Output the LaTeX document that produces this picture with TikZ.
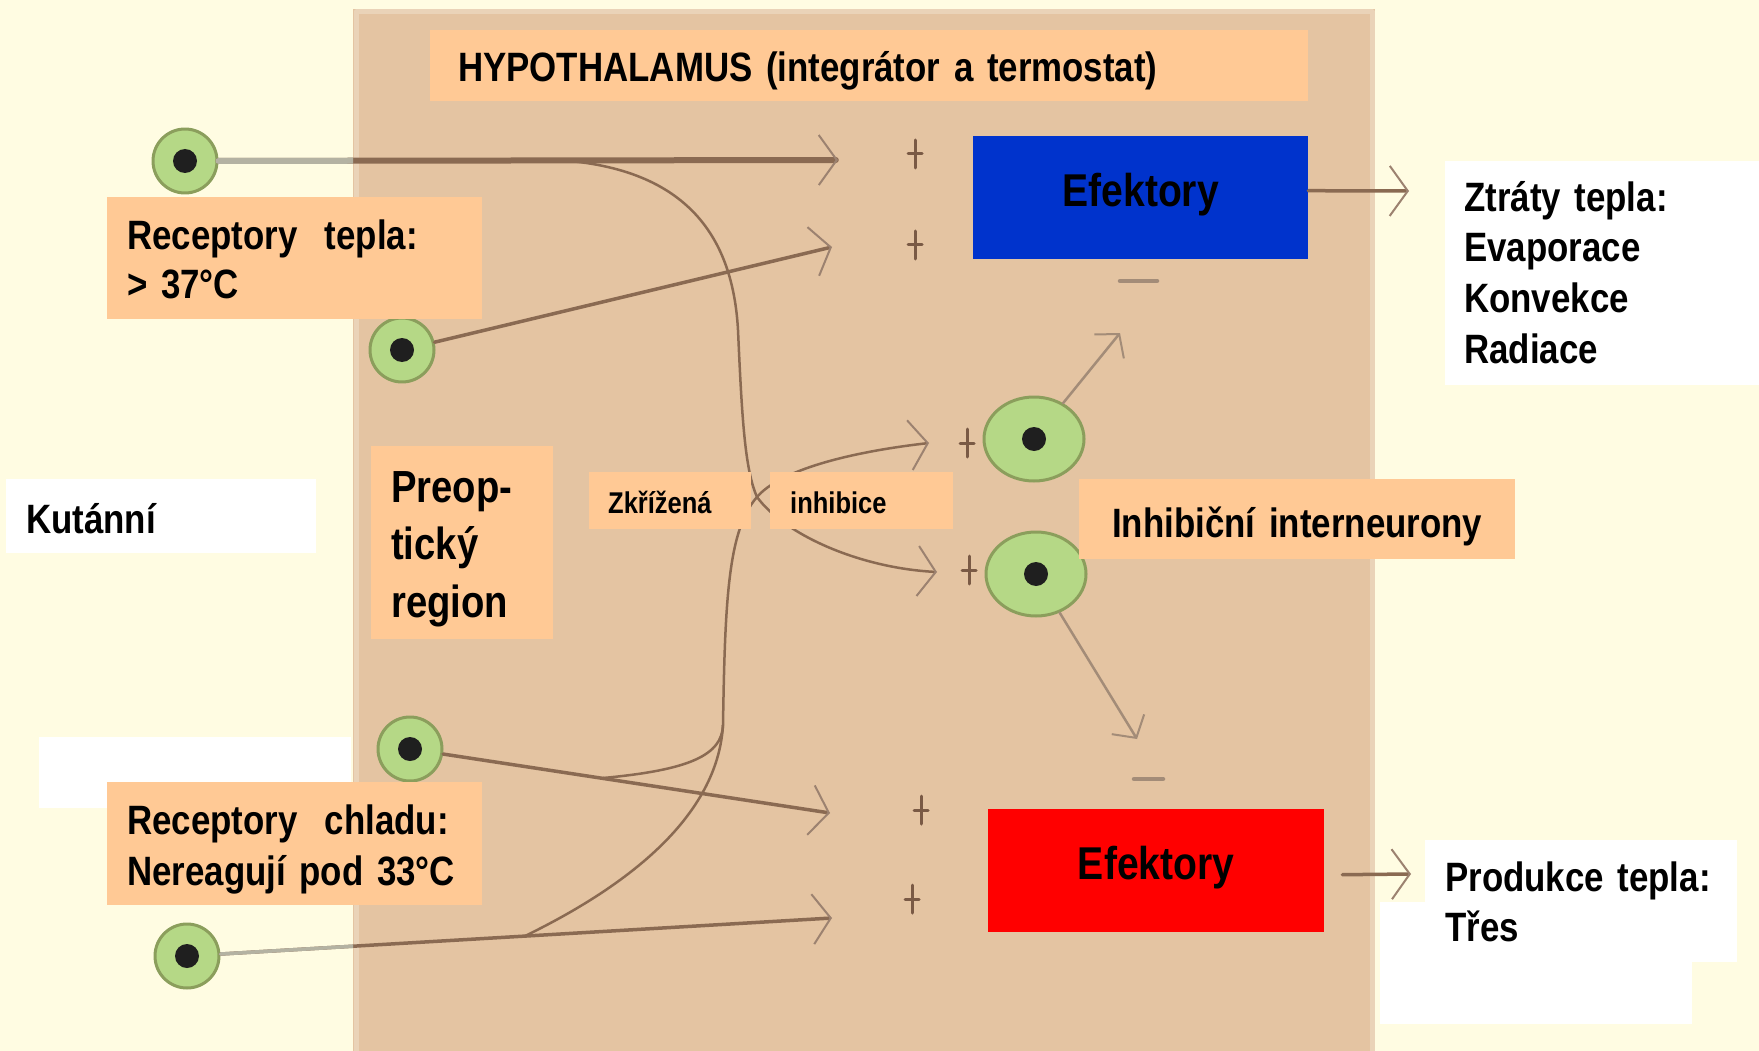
\documentclass[tikz,border=0pt]{standalone}
\usepackage{fontspec}
\setmainfont{Liberation Sans}[FakeStretch=0.85,BoldFeatures={WordSpace=0.65}]
\usepackage{tikz}
\usetikzlibrary{arrows.meta,shapes.geometric}

\definecolor{pagebg}{HTML}{FFFCE2}
\definecolor{hypotan}{HTML}{E4C4A2}
\definecolor{hypoedge}{HTML}{EAD3B8}
\definecolor{peach}{HTML}{FFC995}
\definecolor{nerve}{HTML}{8A6A52}
\definecolor{nervegray}{HTML}{B4B2A2}
\definecolor{barb}{HTML}{9C8270}
\definecolor{cellgreen}{HTML}{B5D886}
\definecolor{cellring}{HTML}{8B9E5C}
\definecolor{efblue}{HTML}{0033CC}
\definecolor{signgray}{HTML}{A38C78}
\definecolor{signdark}{HTML}{7A5A45}

\tikzset{
  labelbox/.style={anchor=north west, inner ysep=0pt, align=left,
    font=\bfseries\fontsize{41}{51}\selectfont},
  peachbox/.style={labelbox, fill=peach},
  whitebox/.style={labelbox, fill=white},
  effbox/.style={anchor=north west, inner sep=0pt, text height=70pt, text depth=53pt,
    font=\bfseries\fontsize{46}{50}\selectfont},
  cell/.style={circle, fill=cellgreen, draw=cellring, line width=3pt, minimum size=64pt, inner sep=0pt,
    path picture={\fill[black!88] (path picture bounding box.center) circle (12pt);}},
  inter/.style={cell, ellipse, minimum width=100pt, minimum height=84pt},
  axon/.style={draw=nerve, line width=3.5pt,
    -{Straight Barb[length=18pt,width=50pt,line width=2pt,color=barb]}},
  crossaxon/.style={axon, line width=2.5pt},
  inhaxon/.style={draw=signgray, line width=2.5pt,
    -{Straight Barb[length=16pt,width=38pt,line width=2pt]}},
  signline/.style={draw=signdark, line width=3pt},
  minusline/.style={draw=signgray, line width=4.5pt}
}

\begin{document}
\begin{tikzpicture}[x=1pt, y=-1pt, line cap=round, line join=round]
  \fill[pagebg] (0,0) rectangle (1759,1051);
  \useasboundingbox (0,0) rectangle (1759,1051);
  % hypothalamus panel
  \fill[hypotan] (353,9) rectangle (1375,1051);
  \draw[hypoedge, line width=5pt] (356,12) rectangle (1372,1060);

  % neurons
  \node[cell] (warmA) at (185,161) {};
  \node[cell] (warmB) at (402,350) {};
  \node[cell] (coldA) at (410,749) {};
  \node[cell] (coldB) at (187,956) {};
  \node[inter] (interA) at (1034,439) {};
  \node[inter] (interB) at (1036,574) {};

  \node[effbox, fill=efblue, minimum width=335pt] (efLoss) at (973,136) {Efektory};
  \node[effbox, fill=red, minimum width=336pt] (efGain) at (988,809) {Efektory};

  \coordinate (tipW1) at (838,160);
  \coordinate (tipW2) at (832,247);
  \coordinate (tipC1) at (830,813);
  \coordinate (tipC2) at (832,918);
  \coordinate (tipIA) at (929,443);
  \coordinate (tipIB) at (937,572);
  \coordinate (cross) at (757,497);
  \coordinate (splitW) at (557,160);
  \coordinate (splitC1) at (603,778);
  \coordinate (splitC2) at (525,936);
  \coordinate (joinC) at (723,725);
  \coordinate (tipInhA) at (1120,333);
  \coordinate (tipInhB) at (1137,739);
  \coordinate (outLoss) at (1409,191);
  \coordinate (outGain) at (1411,874);

  % afferent lines
  \draw[axon, line width=6pt] (warmA) -- (tipW1);
  \draw[axon] (warmB) -- (tipW2);
  \draw[axon] (coldA) -- (tipC1);
  \draw[axon] (coldB) -- (tipC2);
  \begin{scope}
    \clip (0,0) rectangle (353,1051);
    \draw[nervegray, line width=6pt] (warmA) -- (tipW1);
    \draw[nervegray, line width=3.5pt] (coldB) -- (tipC2);
  \end{scope}

  % crossed inhibition
  \draw[crossaxon] (splitW) .. controls (690,168) and (733,240) .. (738,330)
    .. controls (742,420) and (745,470) .. (cross)
    .. controls (785,535) and (860,568) .. (tipIB);
  \draw[crossaxon] (splitC2) .. controls (640,880) and (718,810) .. (joinC)
    .. controls (725,600) and (728,530) .. (cross)
    .. controls (780,470) and (850,452) .. (tipIA);
  \draw[nerve, line width=2.5pt] (splitC1) .. controls (690,770) and (722,755) .. (joinC);

  \draw[inhaxon] (interA) -- (tipInhA);
  \draw[inhaxon] (interB) -- (tipInhB);
  \draw[axon] ([yshift=7pt]efLoss.east) -- (outLoss);
  \draw[axon] ([xshift=18pt,yshift=-4pt]efGain.east) -- (outGain);

  \foreach \p in {(915,154),(915,245),(967,443),(969,570),(921,810),(912,899)}
    \draw[signline] \p ++(0,-14) -- ++(0,28) \p ++(-7,0) -- ++(14,0);
  \draw[minusline] (1120,281) -- (1157,281);
  \draw[minusline] (1134,779) -- (1163,779);

  % labels
  \node[peachbox, minimum width=878pt, text width=822pt, inner xsep=28pt,
    text height=51pt, text depth=20pt] (hypoLbl) at (430,30)
    {HYPOTHALAMUS (integrátor a termostat)};
  \node[peachbox, minimum width=375pt, text width=335pt, inner xsep=20pt,
    text height=52pt, text depth=70pt, font=\bfseries\fontsize{41}{49}\selectfont] (warmLbl) at (107,197)
    {Receptory~~tepla:\\> 37°C};
  \node[whitebox, minimum width=312pt, minimum height=71pt] (blankLbl) at (39,737) {};
  \node[peachbox, minimum width=375pt, text width=335pt, inner xsep=20pt,
    text height=52pt, text depth=71pt] (coldLbl) at (107,782)
    {Receptory~~chladu:\\Nereagují~pod~33°C};
  \node[peachbox, minimum width=182pt, text width=142pt, inner xsep=20pt,
    text height=56pt, text depth=137pt, font=\bfseries\fontsize{45}{57.5}\selectfont] (preLbl) at (371,446)
    {Preop-\\tický\\region};
  \node[peachbox, minimum width=162pt, text width=124pt, inner xsep=19pt,
    text height=41pt, text depth=16pt, font=\bfseries\fontsize{30}{36}\selectfont] (zkrLbl) at (589,472)
    {Zkřížená};
  \node[peachbox, minimum width=183pt, text width=143pt, inner xsep=20pt,
    text height=41pt, text depth=16pt, font=\bfseries\fontsize{30}{36}\selectfont] (inhLbl) at (770,472)
    {inhibice};
  \node[peachbox, minimum width=436pt, text width=396pt, inner xsep=20pt, align=center,
    text height=58pt, text depth=22pt] (interLbl) at (1079,479)
    {Inhibiční~interneurony};
  \node[whitebox, minimum width=310pt, text width=270pt, inner xsep=20pt,
    text height=54pt, text depth=20pt] (kutLbl) at (6,479) {Kutánní};
  \node[whitebox, minimum width=314pt, text width=276pt, inner xsep=19pt,
    text height=50pt, text depth=174pt, font=\bfseries\fontsize{41}{50.7}\selectfont] (lossLbl) at (1445,161)
    {Ztráty~tepla:\\Evaporace\\Konvekce\\Radiace};
  \node[whitebox, minimum width=312pt, minimum height=122pt] (gainBlank) at (1380,902) {};
  \node[whitebox, minimum width=312pt, text width=272pt, inner xsep=20pt,
    text height=51pt, text depth=71pt, font=\bfseries\fontsize{41}{50}\selectfont] (gainLbl) at (1425,840)
    {Produkce~tepla:\\Třes};
\end{tikzpicture}
\end{document}
